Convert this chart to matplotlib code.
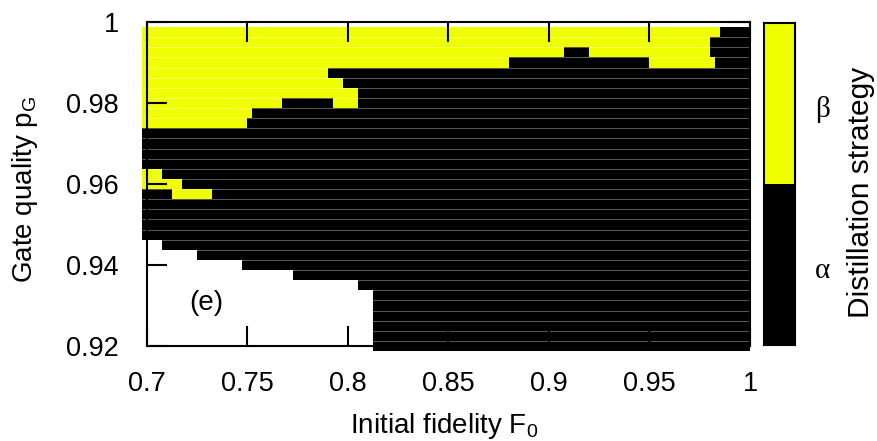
import numpy as np
import matplotlib
matplotlib.use("Agg")
import matplotlib.pyplot as plt
from matplotlib.colors import ListedColormap

plt.rcParams['font.family'] = ['Liberation Sans', 'DejaVu Sans']
plt.rcParams['mathtext.default'] = 'regular'

# gate quality rows, top to bottom
pg_rows = [0.9975, 0.995, 0.9925, 0.99, 0.9875, 0.985, 0.9825, 0.98,
           0.9775, 0.975, 0.9725, 0.97, 0.9675, 0.965, 0.9625, 0.96,
           0.9575, 0.955, 0.9525, 0.95, 0.9475, 0.945, 0.9425, 0.94,
           0.9375, 0.935, 0.9325, 0.93, 0.9275, 0.925, 0.9225, 0.92]

# smallest initial fidelity with a result in each row
f_start = [0.6975] * 21 + [0.7075, 0.725, 0.7475, 0.7725, 0.805] + [0.8125] * 6

# F0 ranges where strategy beta wins (everything else with data is alpha)
beta_runs = [
    [(0.6975, 0.985)],
    [(0.6975, 0.98)],
    [(0.6975, 0.9075), (0.92, 0.98)],
    [(0.6975, 0.88), (0.95, 0.9825)],
    [(0.6975, 0.79)],
    [(0.6975, 0.7975)],
    [(0.6975, 0.805)],
    [(0.6975, 0.7675), (0.7925, 0.805)],
    [(0.6975, 0.7525)],
    [(0.6975, 0.75)],
    [], [], [], [],
    [(0.6975, 0.7075)],
    [(0.6975, 0.7175)],
    [(0.7125, 0.7325)],
] + [[] for _ in range(15)]

step = 0.0025
f_edges = np.linspace(0.6975, 1.0, 122)
f_mid = 0.5 * (f_edges[:-1] + f_edges[1:])
pg = np.array(pg_rows)
pg_edges = np.append(pg + step / 2, pg[-1] - step / 2)

Z = np.full((len(pg), len(f_mid)), np.nan)
for i in range(len(pg)):
    row = np.where(f_mid >= f_start[i], 0.0, np.nan)
    for a, b in beta_runs[i]:
        row[(f_mid > a) & (f_mid < b)] = 1.0
    Z[i] = row

yellow = '#f0ff00'
cmap = ListedColormap(['black', yellow])
W, H = 877, 441

fig = plt.figure(figsize=(8.77, 4.41), dpi=100)
ax = fig.add_axes([0.1673, 0.2154, 0.6879, 0.7347])

ax.pcolormesh(f_edges, pg_edges, Z, cmap=cmap, vmin=0, vmax=1,
              shading='flat', clip_on=False, zorder=1)
# faint seams between the rows
ax.hlines(pg_edges[1:-1], f_edges[0], f_edges[-1], colors='white',
          linewidth=0.7, alpha=0.35, clip_on=False, zorder=1.2)

ax.set_xlim(0.7, 1.0)
ax.set_ylim(0.92, 1.0)
ax.set_xticks([0.7, 0.75, 0.8, 0.85, 0.9, 0.95, 1.0])
ax.set_xticklabels(['0.7', '0.75', '0.8', '0.85', '0.9', '0.95', '1'])
ax.set_yticks([0.92, 0.94, 0.96, 0.98, 1.0])
ax.set_yticklabels(['0.92', '0.94', '0.96', '0.98', '1'])
ax.tick_params(direction='in', length=14.4, width=1.5, top=True, right=True,
               labelsize=19.5)
ax.tick_params(axis='x', pad=18)
ax.tick_params(axis='y', pad=20)
for s in ax.spines.values():
    s.set_linewidth(1.5)

ax.text(0.7298, 0.9306, '(e)', fontsize=20, ha='center', va='center')

fig.text(32 / W, 1 - 283 / H, 'Gate quality p$_G$', rotation=90,
         rotation_mode='anchor', ha='left', va='baseline', fontsize=20)
fig.text(350 / W, 1 - 433 / H, 'Initial fidelity F$_0$',
         ha='left', va='baseline', fontsize=20)

# colour key
cax = fig.add_axes([764 / W, 1 - 345 / H, 31 / W, 322 / H])
cax.pcolormesh([0, 1], [0, 1, 2], [[0], [1]], cmap=cmap, vmin=0, vmax=1)
cax.set_xlim(0, 1)
cax.set_ylim(0, 2)
cax.set_xticks([])
cax.set_yticks([])
for s in cax.spines.values():
    s.set_linewidth(1.5)

fig.text(815 / W, 1 - 117 / H, 'β', family='Liberation Serif',
         ha='left', va='baseline', fontsize=21)
fig.text(815 / W, 1 - 278 / H, 'α', family='Liberation Serif',
         ha='left', va='baseline', fontsize=21)
fig.text(869 / W, 1 - 318 / H, 'Distillation strategy', rotation=90,
         rotation_mode='anchor', ha='left', va='baseline', fontsize=21.5)

fig.savefig('out.png', dpi=100)
